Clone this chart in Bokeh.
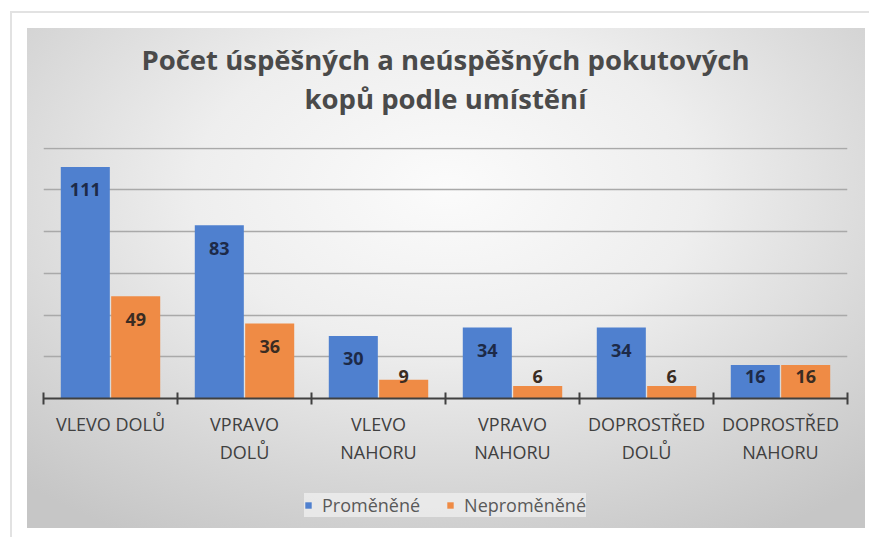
import numpy as np
from bokeh.plotting import figure
from bokeh.layouts import column
from bokeh.models import (ColumnDataSource, Range1d, FixedTicker, Legend, LegendItem, LabelSet, Title,
                          InlineStyleSheet, LinearAxis)
from bokeh.core.properties import value
from bokeh.embed import file_html
from bokeh.resources import INLINE

categories = ["VLEVO DOLŮ", "VPRAVO DOLŮ", "VLEVO NAHORU", "VPRAVO NAHORU", "DOPROSTŘED DOLŮ", "DOPROSTŘED NAHORU"]
tick_labels_line1 = ["VLEVO DOLŮ", "VPRAVO", "VLEVO", "VPRAVO", "DOPROSTŘED", "DOPROSTŘED"]
tick_labels_line2 = ["", "DOLŮ", "NAHORU", "NAHORU", "DOLŮ", "NAHORU"]
promenene = [111, 83, 30, 34, 34, 16]
nepromenene = [49, 36, 9, 6, 6, 16]
series_names = ["Proměněné", "Neproměněné"]
title_lines = ["Počet úspěšných a neúspěšných pokutových", "kopů podle umístění"]

BLUE = "#4f80cf"
ORANGE = "#ef8b45"
FONT = "Open Sans"
TITLE_COLOR = "#4a4a4a"

n = len(categories)
centers = np.arange(n) + 0.5
off = 0.188
bw = 0.366

css = InlineStyleSheet(css=""":host {
  background: radial-gradient(ellipse 75% 80% at 50% 32%, #fbfbfb 0%, #eeeeee 40%, #d6d6d6 75%, #c6c6c6 100%);
  outline: 2px solid #e2e2e2; outline-offset: 15px;
}""")

p = figure(width=838, height=454, x_range=Range1d(0, n), y_range=Range1d(0, 120.3),
           output_backend="svg", toolbar_location=None, x_axis_location=None,
           min_border_left=16, min_border_right=18, min_border_top=119, min_border_bottom=84)
p.background_fill_alpha = 0
p.border_fill_alpha = 0
p.outline_line_color = None

src = ColumnDataSource(dict(
    xb=centers - off, xo=centers + off,
    pb=promenene, po=nepromenene,
    lb=np.maximum(np.array(promenene) - 11, 10.5),
    lo=np.maximum(np.array(nepromenene) - 11, 10.5),
    tb=[str(v) for v in promenene], to=[str(v) for v in nepromenene],
))

p.vbar(x="xb", top="pb", width=bw, source=src, fill_color=BLUE, line_color=None)
p.vbar(x="xo", top="po", width=bw, source=src, fill_color=ORANGE, line_color=None)

p.add_layout(LabelSet(x="xb", y="lb", text="tb", source=src, text_align="center", text_baseline="middle",
                      text_font=value(FONT), text_font_style="bold", text_font_size="18px", text_color="#1d2a48"))
p.add_layout(LabelSet(x="xo", y="lo", text="to", source=src, text_align="center", text_baseline="middle",
                      text_font=value(FONT), text_font_style="bold", text_font_size="18px", text_color="#3a2c22"))

# grid
p.xgrid.visible = False
p.yaxis.visible = False
p.ygrid.ticker = FixedTicker(ticks=list(range(0, 121, 20)))
p.ygrid.grid_line_color = "#a9a9a9"
p.ygrid.grid_line_width = 1.5

# x axis: first label line (with axis line and boundary ticks)
ax = LinearAxis(ticker=FixedTicker(ticks=list(centers), minor_ticks=list(range(n + 1))))
ax.major_label_overrides = {float(c): t for c, t in zip(centers, tick_labels_line1)}
ax.major_tick_in = 0
ax.major_tick_out = 0
ax.minor_tick_in = 6
ax.minor_tick_out = 6
ax.minor_tick_line_color = "#404040"
ax.minor_tick_line_width = 2
ax.axis_line_color = "#404040"
ax.axis_line_width = 2
ax.major_label_text_font = FONT
ax.major_label_text_font_size = "18px"
ax.major_label_text_color = "#404040"
ax.major_label_standoff = 7
p.add_layout(ax, "below")

# second label line
ax2 = LinearAxis(ticker=FixedTicker(ticks=list(centers)))
ax2.major_label_overrides = {float(c): t for c, t in zip(centers, tick_labels_line2)}
ax2.major_tick_in = 0
ax2.major_tick_out = 0
ax2.minor_tick_line_color = None
ax2.axis_line_color = None
ax2.major_label_text_font = FONT
ax2.major_label_text_font_size = "18px"
ax2.major_label_text_color = "#404040"
ax2.major_label_standoff = 1
p.add_layout(ax2, "below")

# titles: first added title sits closest to the frame (spacer, then line 2); p.title is outermost
p.title.text = title_lines[0]
p.title.align = "center"
p.title.text_font = FONT
p.title.text_font_size = "27.5px"
p.title.text_font_style = "bold"
p.title.text_color = TITLE_COLOR
p.title.standoff = 0
p.add_layout(Title(text=" ", align="center", text_font=FONT, text_font_size="10px",
                   text_color=TITLE_COLOR, standoff=15), "above")
p.add_layout(Title(text=title_lines[1], align="center", text_font=FONT, text_font_size="27.5px",
                   text_font_style="bold", text_color=TITLE_COLOR, standoff=0), "above")

# legend strip below the chart (its renderers share the data but are not drawn)
p2 = figure(width=838, height=46, x_range=Range1d(0, 1), y_range=Range1d(0, 1),
            output_backend="svg", toolbar_location=None, min_border=0)
p2.background_fill_alpha = 0
p2.border_fill_alpha = 0
p2.outline_line_color = None
p2.axis.visible = False
p2.grid.visible = False
lb_ = p2.vbar(x="xb", top="pb", width=bw, source=src, fill_color=BLUE, line_color=None, visible=False)
lo_ = p2.vbar(x="xo", top="po", width=bw, source=src, fill_color=ORANGE, line_color=None, visible=False)
legend = Legend(items=[LegendItem(label=series_names[0], renderers=[lb_]),
                       LegendItem(label=series_names[1], renderers=[lo_])],
                orientation="horizontal", location="center")
legend.label_text_font = FONT
legend.label_text_font_size = "18px"
legend.label_text_color = "#595959"
legend.glyph_width = 8
legend.glyph_height = 8
legend.label_standoff = 10
legend.spacing = 26
legend.padding = 11
legend.margin = 0
legend.background_fill_color = "#ececec"
legend.background_fill_alpha = 0.85
legend.border_line_color = None
p2.add_layout(legend)

root = column(p, p2, spacing=0, margin=(28, 0, 0, 27), stylesheets=[css])

open("out.html", "w").write(file_html(root, INLINE))
